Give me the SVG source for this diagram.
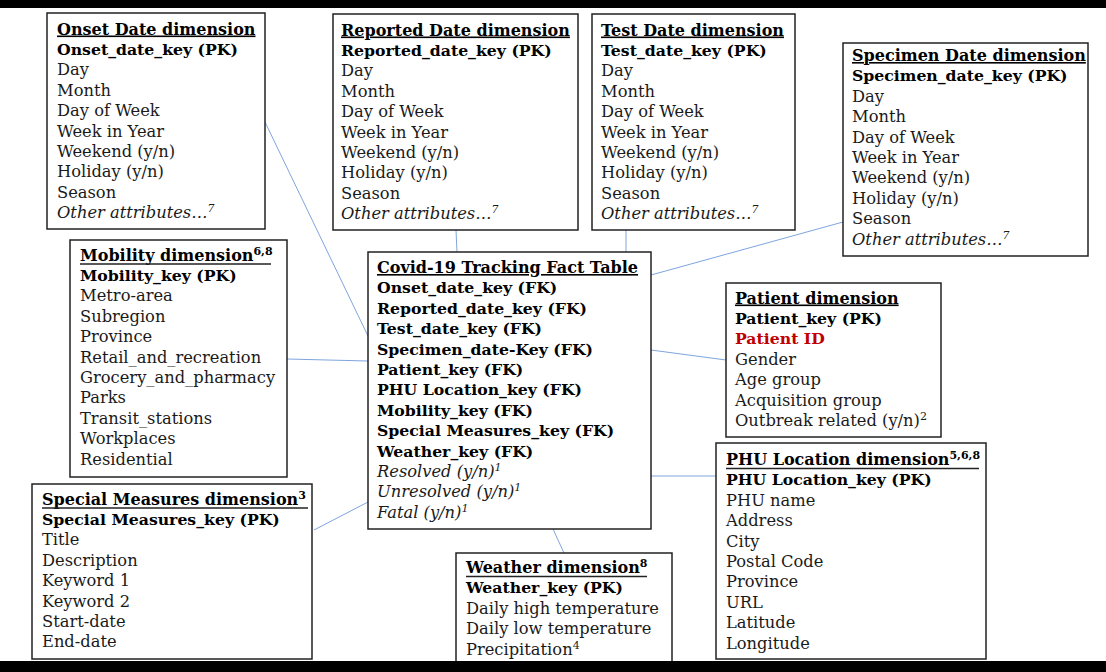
<svg xmlns="http://www.w3.org/2000/svg" width="1106" height="672" viewBox="0 0 1106 672">
<style>
text{font-family:"DejaVu Serif","Liberation Serif",serif;fill:#1a1a1a;font-size:16.3px}
.t{font-weight:bold;font-size:16px;text-decoration:underline;fill:#000}
.ts{font-weight:bold;font-size:16px;fill:#000}
.k{font-weight:bold;font-size:15.7px;fill:#000}
.i{font-style:italic}
.red{fill:#C00000}
.box{fill:#fff;stroke:#222;stroke-width:1.5}
.c{stroke:#6F9BD8;stroke-width:0.9;fill:none}
.u{stroke:#222;stroke-width:1.4}
.sup{font-size:11px}
</style>
<rect x="0" y="0" width="1106" height="672" fill="#fff"/>
<rect x="0" y="0" width="1106" height="8" fill="#000"/>
<g id="connectors">
<line class="c" x1="265" y1="122" x2="368" y2="336"/>
<line class="c" x1="456" y1="230" x2="457" y2="252"/>
<line class="c" x1="626" y1="230" x2="626" y2="252"/>
<line class="c" x1="843" y1="222" x2="651" y2="275"/>
<line class="c" x1="651" y1="350" x2="726" y2="360"/>
<line class="c" x1="651" y1="476" x2="716" y2="476"/>
<line class="c" x1="553" y1="529" x2="564" y2="553"/>
<line class="c" x1="314" y1="530" x2="368" y2="502"/>
<line class="c" x1="287" y1="359" x2="368" y2="361"/>
</g>
<g id="onset">
<rect class="box" x="47" y="13" width="218" height="216"/>
<text x="57" y="34.5" class="t">Onset Date dimension</text>
<text x="57" y="54.9" class="k">Onset_date_key (PK)</text>
<text x="57" y="75.3">Day</text>
<text x="57" y="95.7">Month</text>
<text x="57" y="116.1">Day of Week</text>
<text x="57" y="136.5">Week in Year</text>
<text x="57" y="156.9">Weekend (y/n)</text>
<text x="57" y="177.3">Holiday (y/n)</text>
<text x="57" y="197.7">Season</text>
<text x="57" y="218.1" class="i">Other attributes…<tspan class="sup" baseline-shift="super">7</tspan></text>
</g>
<g id="reported">
<rect class="box" x="333" y="14" width="245" height="216"/>
<text x="341" y="35.5" class="t">Reported Date dimension</text>
<text x="341" y="55.9" class="k">Reported_date_key (PK)</text>
<text x="341" y="76.3">Day</text>
<text x="341" y="96.7">Month</text>
<text x="341" y="117.1">Day of Week</text>
<text x="341" y="137.5">Week in Year</text>
<text x="341" y="157.9">Weekend (y/n)</text>
<text x="341" y="178.3">Holiday (y/n)</text>
<text x="341" y="198.7">Season</text>
<text x="341" y="219.1" class="i">Other attributes…<tspan class="sup" baseline-shift="super">7</tspan></text>
</g>
<g id="test">
<rect class="box" x="592" y="14" width="203" height="216"/>
<text x="601" y="35.5" class="t">Test Date dimension</text>
<text x="601" y="55.9" class="k">Test_date_key (PK)</text>
<text x="601" y="76.3">Day</text>
<text x="601" y="96.7">Month</text>
<text x="601" y="117.1">Day of Week</text>
<text x="601" y="137.5">Week in Year</text>
<text x="601" y="157.9">Weekend (y/n)</text>
<text x="601" y="178.3">Holiday (y/n)</text>
<text x="601" y="198.7">Season</text>
<text x="601" y="219.1" class="i">Other attributes…<tspan class="sup" baseline-shift="super">7</tspan></text>
</g>
<g id="specimen">
<rect class="box" x="843" y="43" width="245" height="213"/>
<text x="852" y="61" class="t">Specimen Date dimension</text>
<text x="852" y="81.4" class="k">Specimen_date_key (PK)</text>
<text x="852" y="101.8">Day</text>
<text x="852" y="122.2">Month</text>
<text x="852" y="142.6">Day of Week</text>
<text x="852" y="163">Week in Year</text>
<text x="852" y="183.4">Weekend (y/n)</text>
<text x="852" y="203.8">Holiday (y/n)</text>
<text x="852" y="224.2">Season</text>
<text x="852" y="244.6" class="i">Other attributes…<tspan class="sup" baseline-shift="super">7</tspan></text>
</g>
<g id="fact">
<rect class="box" x="368" y="252" width="283" height="277"/>
<text x="377" y="273" class="t">Covid-19 Tracking Fact Table</text>
<text x="377" y="293.4" class="k">Onset_date_key (FK)</text>
<text x="377" y="313.8" class="k">Reported_date_key (FK)</text>
<text x="377" y="334.2" class="k">Test_date_key (FK)</text>
<text x="377" y="354.6" class="k">Specimen_date-Key (FK)</text>
<text x="377" y="375" class="k">Patient_key (FK)</text>
<text x="377" y="395.4" class="k">PHU Location_key (FK)</text>
<text x="377" y="415.8" class="k">Mobility_key (FK)</text>
<text x="377" y="436.2" class="k">Special Measures_key (FK)</text>
<text x="377" y="456.6" class="k">Weather_key (FK)</text>
<text x="377" y="477" class="i">Resolved (y/n)<tspan class="sup" baseline-shift="super">1</tspan></text>
<text x="377" y="497.4" class="i">Unresolved (y/n)<tspan class="sup" baseline-shift="super">1</tspan></text>
<text x="377" y="517.8" class="i">Fatal (y/n)<tspan class="sup" baseline-shift="super">1</tspan></text>
</g>
<g id="mobility">
<rect class="box" x="70" y="240" width="217" height="237"/>
<text x="80" y="260.5" class="ts">Mobility dimension<tspan class="sup" baseline-shift="super">6,8</tspan></text>
<line class="u" x1="80" y1="264" x2="271" y2="264"/>
<text x="80" y="280.9" class="k">Mobility_key (PK)</text>
<text x="80" y="301.3">Metro-area</text>
<text x="80" y="321.7">Subregion</text>
<text x="80" y="342.1">Province</text>
<text x="80" y="362.5">Retail_and_recreation</text>
<text x="80" y="382.9">Grocery_and_pharmacy</text>
<text x="80" y="403.3">Parks</text>
<text x="80" y="423.7">Transit_stations</text>
<text x="80" y="444.1">Workplaces</text>
<text x="80" y="464.5">Residential</text>
</g>
<g id="special">
<rect class="box" x="32" y="484" width="280" height="175"/>
<text x="42" y="504.5" class="ts">Special Measures dimension<tspan class="sup" baseline-shift="super">3</tspan></text>
<line class="u" x1="42" y1="508" x2="308" y2="508"/>
<text x="42" y="524.9" class="k">Special Measures_key (PK)</text>
<text x="42" y="545.3">Title</text>
<text x="42" y="565.7">Description</text>
<text x="42" y="586.1">Keyword 1</text>
<text x="42" y="606.5">Keyword 2</text>
<text x="42" y="626.9">Start-date</text>
<text x="42" y="647.3">End-date</text>
</g>
<g id="patient">
<rect class="box" x="726" y="283" width="215" height="154"/>
<text x="735" y="303.5" class="t">Patient dimension</text>
<text x="735" y="323.9" class="k">Patient_key (PK)</text>
<text x="735" y="344.3" class="k red">Patient ID</text>
<text x="735" y="364.7">Gender</text>
<text x="735" y="385.1">Age group</text>
<text x="735" y="405.5">Acquisition group</text>
<text x="735" y="425.9">Outbreak related (y/n)<tspan class="sup" baseline-shift="super">2</tspan></text>
</g>
<g id="phu">
<rect class="box" x="716" y="443" width="270" height="216"/>
<text x="726" y="465" class="ts">PHU Location dimension<tspan class="sup" baseline-shift="super">5,6,8</tspan></text>
<line class="u" x1="726" y1="468.5" x2="979" y2="468.5"/>
<text x="726" y="485.4" class="k">PHU Location_key (PK)</text>
<text x="726" y="505.8">PHU name</text>
<text x="726" y="526.2">Address</text>
<text x="726" y="546.6">City</text>
<text x="726" y="567">Postal Code</text>
<text x="726" y="587.4">Province</text>
<text x="726" y="607.8">URL</text>
<text x="726" y="628.2">Latitude</text>
<text x="726" y="648.6">Longitude</text>
</g>
<g id="weather">
<rect class="box" x="456" y="553" width="216" height="112"/>
<text x="466" y="573" class="ts">Weather dimension<tspan class="sup" baseline-shift="super">8</tspan></text>
<line class="u" x1="466" y1="576.5" x2="647" y2="576.5"/>
<text x="466" y="593.4" class="k">Weather_key (PK)</text>
<text x="466" y="613.8">Daily high temperature</text>
<text x="466" y="634.2">Daily low temperature</text>
<text x="466" y="654.6">Precipitation<tspan class="sup" baseline-shift="super">4</tspan></text>
</g>
<rect x="0" y="661" width="1106" height="11" fill="#000"/>
</svg>
